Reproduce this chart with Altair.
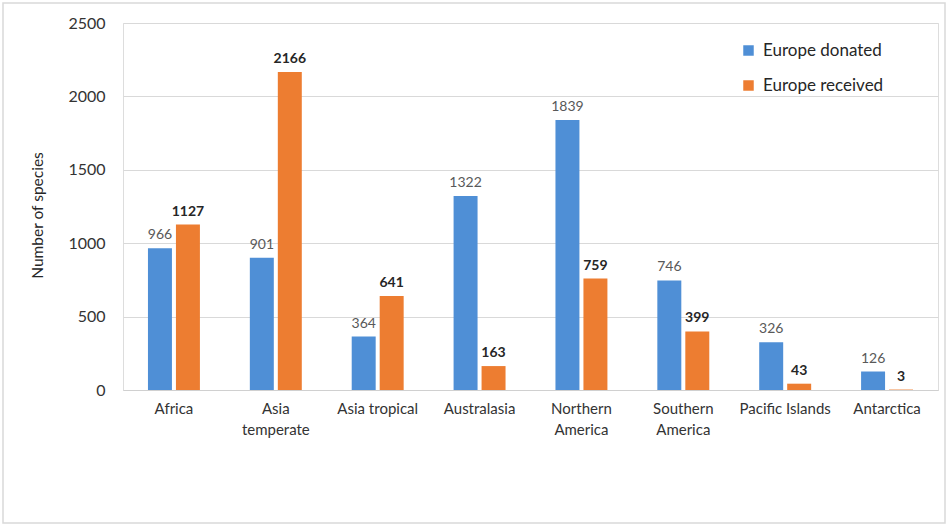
import altair as alt
import pandas as pd

categories = ["Africa", "Asia temperate", "Asia tropical", "Australasia",
              "Northern America", "Southern America", "Pacific Islands", "Antarctica"]
donated = [966, 901, 364, 1322, 1839, 746, 326, 126]
received = [1127, 2166, 641, 163, 759, 399, 43, 3]
series = ["Europe donated", "Europe received"]
colors = ["#4f8fd6", "#ed7d31"]

rows = []
for c, d, r in zip(categories, donated, received):
    rows.append({"region": c, "series": series[0], "value": d})
    rows.append({"region": c, "series": series[1], "value": r})
df = pd.DataFrame(rows)

FONT = "Lato"

x = alt.X("region:N", sort=categories, title=None,
          scale=alt.Scale(paddingInner=0.49, paddingOuter=0.245),
          axis=alt.Axis(labelAngle=0, labelFontSize=15, labelColor="#333333",
                        labelPadding=11, ticks=False, domain=True,
                        domainColor="#d0d0d0", labelFont=FONT, labelLineHeight=21,
                        labelExpr="indexof(['Asia temperate','Northern America','Southern America'], datum.label) >= 0 ? split(datum.label, ' ') : datum.label"))
xoff = alt.XOffset("series:N", sort=series,
                   scale=alt.Scale(paddingInner=0.143, paddingOuter=0))
y = alt.Y("value:Q", title="Number of species",
          scale=alt.Scale(domain=[0, 2500], nice=False),
          axis=alt.Axis(values=[0, 500, 1000, 1500, 2000, 2500], format="d",
                        domain=False, ticks=False, gridColor="#d9d9d9", labelFontSize=16,
                        labelColor="#333333", labelPadding=18, labelFont=FONT,
                        titleFont=FONT, titleFontSize=15.5, titleFontWeight="normal",
                        titleColor="#262626", titleAngle=-90, titleX=-86, titleY=192,
                        titleAlign="center", titleBaseline="middle"))

base = alt.Chart(df)

bars = base.mark_bar().encode(
    x=x, xOffset=xoff, y=y,
    color=alt.Color("series:N", sort=series,
                    scale=alt.Scale(domain=series, range=colors),
                    legend=alt.Legend(title=None, orient="none", legendX=617, legendY=19,
                                      symbolType="square", symbolSize=110,
                                      symbolStrokeWidth=0, labelFontSize=17,
                                      labelFont=FONT, labelColor="#262626",
                                      rowPadding=17, labelOffset=6)),
)

lab_don = base.transform_filter(alt.datum.series == series[0]).mark_text(
    baseline="bottom", dy=-6, fontSize=14, font=FONT, color="#595959"
).encode(x=x, xOffset=xoff, y=y, text="value:Q")

lab_rec = base.transform_filter(alt.datum.series == series[1]).mark_text(
    baseline="bottom", dy=-6, fontSize=14, font=FONT, fontWeight="bold", color="#262626"
).encode(x=x, xOffset=xoff, y=y, text="value:Q")

border = alt.Chart(pd.DataFrame({"a": [0]})).mark_rect(
    fill=None, stroke="#d9d9d9", strokeWidth=1.5
).encode(x=alt.value(-120), x2=alt.value(822), y=alt.value(-20), y2=alt.value(500))

chart = alt.layer(border, bars, lab_don, lab_rec).properties(
    width=815, height=367,
    padding={"left": 123, "top": 23, "right": 10, "bottom": 137},
    autosize=alt.AutoSizeParams(type="none"),
).configure_view(stroke=None).configure(background="white")

chart.save("out.html", embed_options={"renderer": "svg", "actions": False})
